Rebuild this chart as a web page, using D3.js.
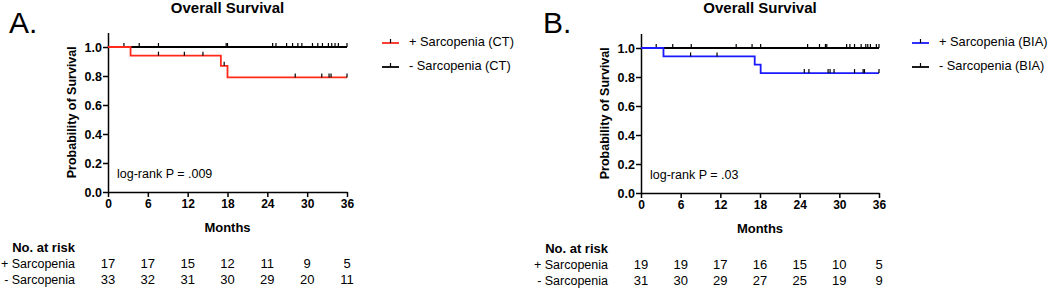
<!DOCTYPE html>
<html>
<head>
<meta charset="utf-8">
<script src="https://cdn.jsdelivr.net/npm/d3@7"></script>
<style>
  body { margin: 0; background: #fff; }
  svg { font-family: "Liberation Sans", Arial, sans-serif; }
  text { fill: #000; }
</style>
</head>
<body>
<div id="viz"></div>
<script>
// ---- data ----
var months = [0, 6, 12, 18, 24, 30, 36];

// panel A (CT)
var ctPlusSteps = [[0, 1], [3.4, 0.94], [17, 0.87], [18, 0.79], [36, 0.79]];
var ctPlusCensor = [7.6, 11.5, 14.3, 17.5, 28.2, 32.2, 33.3, 33.6, 36];
var ctMinusSteps = [[0, 1], [36, 1]];
var ctMinusCensor = [2.4, 4.7, 7.6, 17.8, 18.0, 24.8, 25.3, 26.9, 27.8, 28.6, 29.2, 30.8, 31.6, 32.3, 33.2, 33.7, 34.2, 34.7, 36];
var ctPlusRisk = [17, 17, 15, 12, 11, 9, 5];
var ctMinusRisk = [33, 32, 31, 30, 29, 20, 11];

// panel B (BIA)
var biaPlusSteps = [[0, 1], [3.4, 0.942], [17.2, 0.885], [18.1, 0.827], [36, 0.827]];
var biaPlusCensor = [7.5, 11.5, 24.7, 25.4, 28.3, 28.6, 29.2, 32.3, 33.6, 33.8, 36];
var biaMinusSteps = [[0, 1], [36, 1]];
var biaMinusCensor = [2.3, 4.8, 7.6, 14.4, 16.8, 18.1, 25.2, 27.0, 27.9, 28.1, 31.1, 31.6, 32.3, 33.3, 34.0, 34.3, 34.7, 35.6, 36];
var biaPlusRisk = [19, 19, 17, 16, 15, 10, 5];
var biaMinusRisk = [31, 30, 29, 27, 25, 19, 9];

var yTicks = [0, 0.2, 0.4, 0.6, 0.8, 1.0];

var svg = d3.select('#viz').append('svg')
  .attr('width', 1050)
  .attr('height', 289);

function drawPanel(p) {
  var x = d3.scaleLinear().domain([0, 36]).range([p.left, p.right]);
  var y = d3.scaleLinear().domain([0, 1.1]).range([p.bottom, p.bottom - 159.5]);
  var g = svg.append('g');

  // letter + title
  g.append('text').attr('x', p.letterX).attr('y', 33)
    .attr('font-size', 30).text(p.letter);
  g.append('text').attr('x', (p.left + p.right) / 2).attr('y', 13)
    .attr('text-anchor', 'middle').attr('font-size', 15).attr('font-weight', 'bold')
    .text('Overall Survival');

  // axes
  var yAxis = d3.axisLeft(y).tickValues(yTicks).tickFormat(d3.format('.1f'))
    .tickSize(5).tickSizeOuter(0);
  var ya = g.append('g').attr('transform', 'translate(' + p.left + ',0)').call(yAxis);
  var xAxis = d3.axisBottom(x).tickValues(months).tickSize(5).tickSizeOuter(0);
  var xa = g.append('g').attr('transform', 'translate(0,' + p.bottom + ')').call(xAxis);
  [ya, xa].forEach(function(a) {
    a.selectAll('path, line').attr('stroke', '#000').attr('stroke-width', 1.5);
    a.selectAll('text').attr('font-size', 12.5).attr('font-weight', 'bold')
      .attr('font-family', '"Liberation Sans", Arial, sans-serif').attr('fill', '#000');
  });
  ya.selectAll('text').attr('x', -6);
  xa.selectAll('text').attr('y', 7).attr('font-size', 12);

  // axis titles
  g.append('text')
    .attr('transform', 'translate(' + (p.left - 35) + ',' + y(0.55) + ') rotate(-90)')
    .attr('text-anchor', 'middle').attr('dominant-baseline', 'middle')
    .attr('font-size', 12.5).attr('font-weight', 'bold')
    .text('Probability of Survival');
  g.append('text').attr('x', x(18)).attr('y', p.bottom + 40)
    .attr('text-anchor', 'middle').attr('font-size', 13).attr('font-weight', 'bold')
    .text('Months');

  // curves
  var line = d3.line().x(function(d) { return x(d[0]); }).y(function(d) { return y(d[1]); })
    .curve(d3.curveStepAfter);
  function stepAt(steps, t) {
    var v = steps[0][1];
    steps.forEach(function(s) { if (s[0] <= t) v = s[1]; });
    return v;
  }
  [[p.minusSteps, p.minusCensor, '#000'], [p.plusSteps, p.plusCensor, p.color]].forEach(function(c) {
    g.append('path').datum(c[0]).attr('d', line)
      .attr('fill', 'none').attr('stroke', c[2]).attr('stroke-width', 1.8);
    g.selectAll(null).data(c[1]).enter().append('line')
      .attr('x1', function(d) { return x(d); }).attr('x2', function(d) { return x(d); })
      .attr('y1', function(d) { return y(stepAt(c[0], d)) - 4; })
      .attr('y2', function(d) { return y(stepAt(c[0], d)); })
      .attr('stroke', '#000').attr('stroke-width', 1.2);
  });

  // log-rank
  g.append('text').attr('x', p.left + 9).attr('y', y(0.12))
    .attr('dominant-baseline', 'middle').attr('font-size', 12.5)
    .text(p.pText);

  // legend
  var leg = g.append('g');
  [[p.color, p.plusLabel], ['#000', p.minusLabel]].forEach(function(l, i) {
    var ly = 43 + i * 24;
    leg.append('line').attr('x1', p.legX).attr('x2', p.legX + 17)
      .attr('y1', ly).attr('y2', ly).attr('stroke', l[0]).attr('stroke-width', 1.8);
    leg.append('line').attr('x1', p.legX + 8.5).attr('x2', p.legX + 8.5)
      .attr('y1', ly - 4).attr('y2', ly).attr('stroke', '#000').attr('stroke-width', 1.2);
    leg.append('text').attr('x', p.legX + 27).attr('y', ly)
      .attr('dominant-baseline', 'middle').attr('font-size', 12.8).text(l[1]);
  });

  // number at risk
  g.append('text').attr('x', p.riskLabelX).attr('y', p.bottom + 57)
    .attr('dominant-baseline', 'middle').attr('text-anchor', 'end')
    .attr('font-size', 13).attr('font-weight', 'bold').text('No. at risk');
  [['+ Sarcopenia', p.plusRisk], ['- Sarcopenia', p.minusRisk]].forEach(function(r, i) {
    var ry = p.bottom + 73 + i * 16;
    g.append('text').attr('x', p.riskLabelX).attr('y', ry)
      .attr('dominant-baseline', 'middle').attr('text-anchor', 'end')
      .attr('font-size', 12.5).text(r[0]);
    g.selectAll(null).data(r[1]).enter().append('text')
      .attr('x', function(d, j) { return x(months[j]); }).attr('y', ry)
      .attr('dominant-baseline', 'middle').attr('text-anchor', 'middle')
      .attr('font-size', 13).attr('fill', '#000').text(function(d) { return d; });
  });
}

drawPanel({
  letter: 'A.', letterX: 9, left: 108, right: 347, bottom: 192,
  color: '#ff2a1a', plusSteps: ctPlusSteps, plusCensor: ctPlusCensor,
  minusSteps: ctMinusSteps, minusCensor: ctMinusCensor,
  plusRisk: ctPlusRisk, minusRisk: ctMinusRisk, pText: 'log-rank P = .009',
  legX: 382, plusLabel: '+ Sarcopenia (CT)', minusLabel: '- Sarcopenia (CT)', riskLabelX: 75
});
drawPanel({
  letter: 'B.', letterX: 543, left: 641, right: 879, bottom: 193,
  color: '#1a1aff', plusSteps: biaPlusSteps, plusCensor: biaPlusCensor,
  minusSteps: biaMinusSteps, minusCensor: biaMinusCensor,
  plusRisk: biaPlusRisk, minusRisk: biaMinusRisk, pText: 'log-rank P = .03',
  legX: 912, plusLabel: '+ Sarcopenia (BIA)', minusLabel: '- Sarcopenia (BIA)', riskLabelX: 608
});
</script>
</body>
</html>
